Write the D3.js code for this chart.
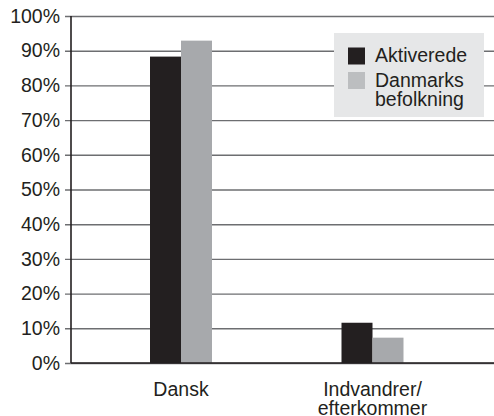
<!DOCTYPE html>
<html><head><meta charset="utf-8">
<script src="https://cdn.jsdelivr.net/npm/d3@7"></script>
<style>body{margin:0;background:#fff}svg{display:block}text{font-family:"Liberation Sans",Arial,sans-serif;fill:#231f20}</style>
</head><body><svg id="c" width="494" height="416"></svg>
<script>
const categories = ["Dansk", "Indvandrer/\nefterkommer"];
const seriesNames = ["Aktiverede", "Danmarks\nbefolkning"];
const aktiverede = [88.3, 11.6];
const befolkning = [92.9, 7.3];
const yTicks = [0,10,20,30,40,50,60,70,80,90,100];
const colors = ["#231f20", "#a7a9ac"];
const legendColors = ["#231f20", "#bcbec0"];

const svg = d3.select("#c");
const y = d3.scaleLinear().domain([0,100]).range([363,16]);
const x = d3.scaleBand().domain(categories).range([85.25,468.25]);
const xs = d3.scaleBand().domain([0,1]).range([0,62]);
const axX = 71, fs = 19.5, lh = 19;

// gridlines + y labels
const yAxis = d3.axisLeft(y).tickValues(yTicks).tickFormat(d=>d+"%").tickSize(-(494-axX)).tickPadding(11);
const gy = svg.append("g").attr("transform",`translate(${axX},0)`).call(yAxis);
gy.select(".domain").remove();
gy.selectAll(".tick line").attr("x1",-6).attr("stroke","#6d6e71").attr("stroke-width",1.4);
gy.selectAll(".tick text").attr("font-size",fs).attr("font-family","'Liberation Sans',Arial,sans-serif").attr("fill","#231f20");

// bars
const data = categories.map((c,i)=>({c, v:[aktiverede[i], befolkning[i]]}));
const g = svg.append("g");
data.forEach(d=>{
  const c0 = x(d.c) + x.bandwidth()/2 - 31;
  d.v.forEach((v,j)=>{
    g.append("rect").attr("x",c0+xs(j)).attr("width",xs.bandwidth())
      .attr("y",y(v)).attr("height",y(0)-y(v)).attr("fill",colors[j]);
  });
});

// axes lines
svg.append("line").attr("x1",axX).attr("x2",axX).attr("y1",y(100)).attr("y2",y(0)).attr("stroke","#231f20").attr("stroke-width",1.6);
svg.append("line").attr("x1",axX).attr("x2",494).attr("y1",y(0)).attr("y2",y(0)).attr("stroke","#231f20").attr("stroke-width",1.6);

// category labels
categories.forEach(c=>{
  const cx = x(c)+x.bandwidth()/2;
  const t = svg.append("text").attr("text-anchor","middle").attr("font-size",fs).attr("y",395.5);
  c.split("\n").forEach((line,i)=>t.append("tspan").attr("x",cx).attr("dy",i?lh:0).text(line));
});

// legend
const lg = svg.append("g");
lg.append("rect").attr("x",334).attr("y",33).attr("width",150).attr("height",84).attr("fill","#e6e7e8");
seriesNames.forEach((s,i)=>{
  const yy = [47.5,72][i];
  lg.append("rect").attr("x",348).attr("y",yy).attr("width",17).attr("height",17).attr("fill",legendColors[i]);
  const t = lg.append("text").attr("font-size",fs).attr("x",375).attr("y",[61.5,86.5][i]);
  s.split("\n").forEach((line,k)=>t.append("tspan").attr("x",375).attr("dy",k?lh:0).text(line));
});
</script></body></html>
